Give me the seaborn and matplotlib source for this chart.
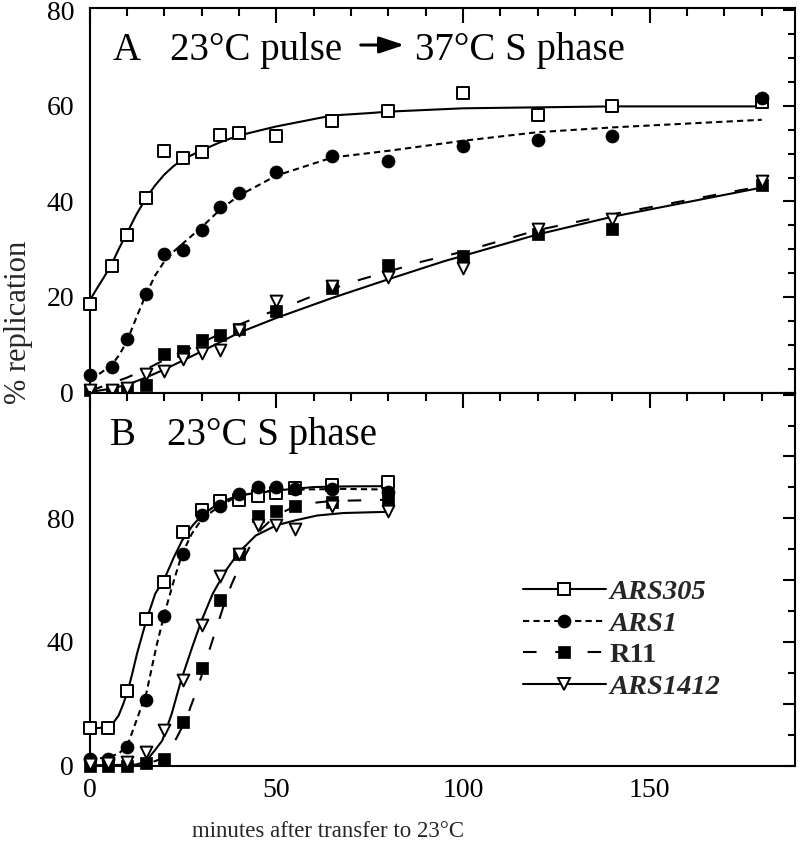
import numpy as np
import pandas as pd
import matplotlib
matplotlib.use('Agg')
import matplotlib.pyplot as plt
import seaborn as sns
from matplotlib.lines import Line2D
from matplotlib.ticker import MultipleLocator, FixedLocator, FixedFormatter

sns.set_style('white')
plt.rcParams['font.family'] = ['Liberation Serif', 'DejaVu Serif']

# ---------------- data ----------------
names = ['ARS305', 'ARS1', 'R11', 'ARS1412']

# Panel A : 23C pulse -> 37C S phase
tA = [0, 6, 10, 15, 20, 25, 30, 35, 40, 50, 65, 80, 100, 120, 140, 180]
A_ARS305 = [18.5, 26.5, 33.0, 40.8, 50.5, 49.2, 50.4, 53.9, 54.3, 53.6, 56.9, 59.0, 62.7, 58.1, 59.9, 60.8]
A_ARS1 = [3.6, 5.4, 11.1, 20.6, 28.9, 29.8, 34.0, 38.9, 41.7, 46.1, 49.6, 48.5, 51.7, 52.9, 53.8, 61.7]
A_R11 = [0.5, 0.3, 0.5, 1.6, 8.0, 8.7, 10.9, 12.0, 13.3, 17.0, 21.9, 26.6, 28.6, 33.1, 34.2, 43.4]
A_ARS1412 = [0.6, 0.6, 0.9, 3.8, 4.4, 7.0, 8.3, 8.9, 13.1, 19.1, 22.4, 24.1, 26.1, 34.3, 36.3, 44.3]

# fitted curves, panel A
fitA_ARS305_x = [0, 2, 4, 6, 8, 10, 12.5, 15, 17.5, 20, 22.5, 25, 30, 35, 40, 50, 65, 75, 80, 100, 120, 140, 180]
fitA_ARS305_y = [19.2, 21.8, 24.3, 27.0, 30.3, 33.3, 37.2, 40.5, 43.3, 45.6, 47.4, 48.8, 50.7, 52.4, 53.8, 55.7, 58.0, 58.5, 58.8, 59.5, 59.7, 59.9, 59.9]
fitA_ARS1_x = [0, 3, 6, 8, 10, 12.5, 15, 17.5, 20, 22.5, 25, 30, 35, 40, 50, 65, 80, 100, 120, 140, 180]
fitA_ARS1_y = [3.0, 4.1, 5.8, 7.9, 10.7, 15.6, 20.3, 24.4, 27.4, 29.5, 31.2, 34.6, 38.3, 41.2, 45.4, 49.2, 50.6, 52.7, 54.5, 55.5, 57.1]
fitA_R11_x = [0, 10, 15, 20, 25, 30, 35, 40, 47, 55, 62, 71, 80, 88, 100, 120, 140, 180]
fitA_R11_y = [0.3, 3.1, 4.8, 6.8, 8.5, 10.4, 12.3, 14.2, 16.4, 18.7, 20.9, 23.3, 25.3, 27.2, 29.5, 34.0, 37.3, 43.2]
fitA_ARS1412_x = [0, 5, 10, 15, 20, 30, 40, 50, 65, 80, 95, 100, 120, 140, 180]
fitA_ARS1412_y = [0.1, 0.7, 1.6, 3.1, 4.8, 8.6, 12.5, 15.6, 19.8, 23.7, 27.5, 28.6, 33.1, 36.8, 42.9]

# Panel B : 23C S phase
tB = [0, 5, 10, 15, 20, 25, 30, 35, 40, 45, 50, 55, 65, 80]
B_ARS305 = [12.2, 12.2, 24.0, 47.3, 59.3, 75.6, 82.6, 85.6, 85.8, 87.1, 88.1, 89.9, 90.9, 91.7]
B_ARS1 = [2.2, 2.2, 5.9, 21.2, 48.4, 68.3, 81.0, 84.0, 87.9, 90.1, 90.1, 89.5, 89.5, 88.5]
B_R11 = [0.0, 0.0, 0.0, 0.8, 2.2, 14.0, 31.4, 53.6, 68.5, 80.6, 82.5, 84.1, 85.2, 86.0]
B_ARS1412 = [0.5, 0.8, 1.1, 4.3, 11.5, 27.8, 45.6, 61.2, 68.3, 77.7, 77.7, 76.4, 84.1, 82.5]

fitB_ARS305_x = [0, 3, 5, 6.5, 7.8, 9, 10.3, 11.5, 12.7, 15.2, 17.6, 20.1, 22.6, 24.8, 27.5, 30, 35, 40, 50, 60, 68, 80]
fitB_ARS305_y = [11.9, 12.2, 12.8, 14.0, 16.2, 19.8, 24.3, 30.0, 36.1, 46.9, 55.6, 60.5, 67.4, 72.8, 77.5, 80.9, 85.2, 87.4, 89.0, 90.1, 90.3, 90.4]
fitB_ARS1_x = [0, 5, 8, 10.3, 12.7, 15.3, 17.9, 20.2, 22.6, 24.8, 27.4, 30.1, 35, 40, 50, 68, 80]
fitB_ARS1_y = [2.2, 2.5, 4.0, 7.0, 15.0, 23.8, 38.5, 49.7, 59.9, 68.5, 75.0, 79.8, 84.1, 87.4, 89.2, 89.5, 89.3]
fitB_R11_x = [0, 10, 15, 20, 22, 24, 26, 28, 30, 32, 34, 36, 38, 40, 43, 46, 50, 55, 60, 65, 80]
fitB_R11_y = [0, 0, 0.3, 2.5, 6, 10.5, 15.5, 22, 29, 37, 44.5, 52, 58.5, 64, 71, 76.5, 81, 83.8, 85.0, 85.6, 86.0]
fitB_ARS1412_x = [0, 12.5, 15, 17.5, 19.5, 22, 24.5, 27.5, 30, 33, 36.5, 40, 44.5, 50, 55, 61, 68, 80]
fitB_ARS1412_y = [0, 0.3, 1.2, 4.9, 8.1, 16.7, 27.5, 38.3, 46.9, 55.6, 63.1, 69.0, 74.4, 77.7, 79.3, 80.9, 81.7, 82.1]

# ---------------- styles ----------------
LS = {'ARS305': '-', 'ARS1': (0, (3, 2)), 'R11': (0, (6.5, 9)), 'ARS1412': '-'}
MK = {'ARS305': dict(marker='s', s=78, facecolor='white', edgecolor='black', linewidth=1.4),
      'ARS1': dict(marker='o', s=88, color='black', edgecolor='black', linewidth=0.5),
      'R11': dict(marker='s', s=68, color='black', edgecolor='black', linewidth=0.5),
      'ARS1412': dict(marker='v', s=72, facecolor='white', edgecolor='black', linewidth=1.4)}

W, H = 800, 847
fig = plt.figure(figsize=(W / 100, H / 100), dpi=100)
L, R = 89.5, 795
axA = fig.add_axes([L / W, 1 - 392.5 / H, (R - L) / W, (392.5 - 8) / H])
axB = fig.add_axes([L / W, 1 - 765.5 / H, (R - L) / W, (765.5 - 392.5) / H])


def draw(ax, t, pts, fits):
    for n in names:
        fx, fy = fits[n]
        sns.lineplot(x=fx, y=fy, ax=ax, color='black', lw=1.5, linestyle=LS[n],
                     estimator=None, legend=False, zorder=2)
    for n in names:
        sns.scatterplot(x=t, y=pts[n], ax=ax, clip_on=False, zorder=3, legend=False, **MK[n])


draw(axA, tA,
     {'ARS305': A_ARS305, 'ARS1': A_ARS1, 'R11': A_R11, 'ARS1412': A_ARS1412},
     {'ARS305': (fitA_ARS305_x, fitA_ARS305_y), 'ARS1': (fitA_ARS1_x, fitA_ARS1_y),
      'R11': (fitA_R11_x, fitA_R11_y), 'ARS1412': (fitA_ARS1412_x, fitA_ARS1412_y)})
draw(axB, tB,
     {'ARS305': B_ARS305, 'ARS1': B_ARS1, 'R11': B_R11, 'ARS1412': B_ARS1412},
     {'ARS305': (fitB_ARS305_x, fitB_ARS305_y), 'ARS1': (fitB_ARS1_x, fitB_ARS1_y),
      'R11': (fitB_R11_x, fitB_R11_y), 'ARS1412': (fitB_ARS1412_x, fitB_ARS1412_y)})

for ax in (axA, axB):
    ax.set_xlim(0, 188.9)
    ax.xaxis.set_major_locator(MultipleLocator(50))
    ax.xaxis.set_minor_locator(MultipleLocator(10))
    ax.tick_params(axis='both', which='both', direction='in', top=True, right=True,
                   width=1.5, labelsize=20, colors='black')
    ax.tick_params(axis='x', which='major', length=10.5, pad=9)
    ax.tick_params(axis='x', which='minor', length=5.5)
    ax.tick_params(axis='y', which='major', length=9, pad=11)
    ax.tick_params(axis='y', which='minor', length=5)
    for sp in ax.spines.values():
        sp.set_linewidth(1.5)
        sp.set_color('black')
    ax.set_xlabel('')
    ax.set_ylabel('')

axA.set_ylim(0, 80.5)
axA.yaxis.set_major_locator(MultipleLocator(20))
axA.yaxis.set_minor_locator(MultipleLocator(5))
axA.tick_params(axis='x', labelbottom=False)

axB.set_ylim(0, 120.7)
axB.yaxis.set_major_locator(FixedLocator([0, 20, 40, 60, 80, 100, 120]))
axB.yaxis.set_major_formatter(FixedFormatter(['0', '', '40', '', '80', '', '']))
axB.yaxis.set_minor_locator(MultipleLocator(10))
axB.set_xticks([0, 50, 100, 150])
axB.set_xticklabels(['0', '50', '100', '150'])

# panel titles
tf = dict(fontsize=28, va='baseline', ha='left', color='black')
fig.text(113 / W, 1 - 60 / H, 'A', **tf)
fig.text(170 / W, 1 - 60 / H, '23°C pulse', **tf)
fig.text(415 / W, 1 - 60 / H, '37°C S phase', **tf)
fig.add_artist(matplotlib.patches.FancyArrowPatch(
    (358 / W, 1 - 45 / H), (407 / W, 1 - 45 / H), transform=fig.transFigure,
    arrowstyle='-|>,head_length=0.75,head_width=0.25', mutation_scale=20,
    lw=2.2, color='black'))
fig.text(110 / W, 1 - 445 / H, 'B', **tf)
fig.text(167 / W, 1 - 445 / H, '23°C S phase', **tf)

# axis labels
fig.text(19 / W, 1 - 322 / H, '% replication', rotation=90, ha='center', va='center', fontsize=22)
fig.text(328 / W, 1 - 837 / H, 'minutes after transfer to 23°C', ha='center', va='baseline', fontsize=16.5)

# legend
handles = []
for n in names:
    m = MK[n]
    face = m.get('facecolor', 'black')
    handles.append(Line2D([], [], color='black', lw=1.5, linestyle=LS[n], marker=m['marker'],
                          markersize=np.sqrt(m['s']), markerfacecolor=face,
                          markeredgecolor='black', markeredgewidth=m['linewidth']))
leg = axB.legend(handles, names, loc='upper left', bbox_to_anchor=(523 / W, 1 - 579 / H),
                 bbox_transform=fig.transFigure, frameon=False, borderpad=0, borderaxespad=0,
                 handlelength=2.9, handletextpad=0.15, labelspacing=0.2,
                 prop={'size': 20.5, 'weight': 'bold'})
for i, txt in enumerate(leg.get_texts()):
    if names[i] != 'R11':
        txt.set_fontstyle('italic')

fig.savefig('out.png', dpi=100)
